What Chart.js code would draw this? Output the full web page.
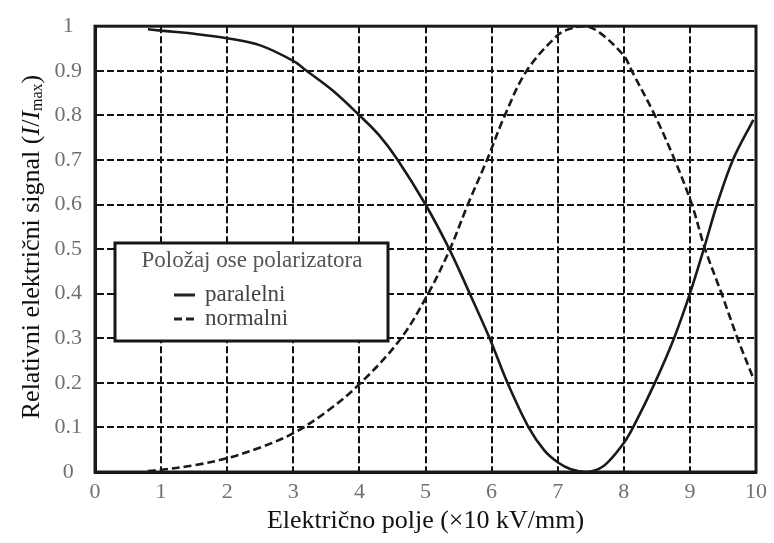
<!DOCTYPE html>
<html>
<head>
<meta charset="utf-8">
<script src="https://cdn.jsdelivr.net/npm/chart.js@4/dist/chart.umd.min.js"></script>
<style>
  html, body { margin: 0; padding: 0; background: #fff; }
  canvas { display: block; }
</style>
</head>
<body>
<canvas id="chart" width="774" height="543"></canvas>
<script>
// values
const paralelniX = [0.8, 1.0, 1.5, 2.0, 2.5, 3.0, 3.2, 3.6, 4.0, 4.3, 4.58, 5.0, 5.36, 5.67, 5.97, 6.24, 6.56, 6.8, 7.0, 7.2, 7.44, 7.7, 8.0, 8.14, 8.47, 8.76, 9.0, 9.21, 9.41, 9.65, 9.96];
const paralelniY = [0.993, 0.99, 0.983, 0.973, 0.957, 0.922, 0.9, 0.855, 0.8, 0.755, 0.7, 0.6, 0.5, 0.4, 0.3, 0.2, 0.1, 0.048, 0.022, 0.006, 0.0, 0.014, 0.065, 0.1, 0.2, 0.3, 0.4, 0.5, 0.6, 0.7, 0.79];

const normalniX = [0.8, 1.0, 1.5, 2.0, 2.5, 3.0, 3.5, 4.0, 4.61, 5.04, 5.37, 5.64, 5.93, 6.2, 6.53, 7.0, 7.2, 7.42, 7.64, 8.0, 8.12, 8.47, 8.77, 9.03, 9.23, 9.48, 9.72, 9.96];
const normalniY = [0.002, 0.005, 0.015, 0.031, 0.055, 0.087, 0.135, 0.197, 0.296, 0.4, 0.5, 0.6, 0.7, 0.8, 0.9, 0.98, 0.995, 1.0, 0.985, 0.934, 0.9, 0.8, 0.7, 0.6, 0.5, 0.4, 0.3, 0.21];

const xTicks = [0, 10, 1];
const yTicks = [0, 1, 0.1];
const legendTitle = "Položaj ose polarizatora";
const xTitle = "Električno polje (×10 kV/mm)";

const serif = "'Liberation Serif', 'Times New Roman', 'DejaVu Serif', serif";

const toPoints = (xs, ys) => xs.map((x, i) => ({ x: x, y: ys[i] }));

// y axis title with italic I and subscript "max"
const yTitlePlugin = {
  id: "yTitle",
  afterDraw(chart) {
    const ctx = chart.ctx;
    const parts = [
      { t: "Relativni električni signal (", f: "26px " + serif, dy: 0 },
      { t: "I", f: "italic 26px " + serif, dy: 0 },
      { t: "/", f: "26px " + serif, dy: 0 },
      { t: "I", f: "italic 26px " + serif, dy: 0 },
      { t: "max", f: "16px " + serif, dy: 6 },
      { t: ")", f: "26px " + serif, dy: 0 },
    ];
    let total = 0;
    parts.forEach((p) => {
      ctx.font = p.f;
      p.w = ctx.measureText(p.t).width;
      total += p.w;
    });
    ctx.save();
    ctx.translate(32, 247);
    ctx.rotate(-Math.PI / 2);
    ctx.fillStyle = "#111";
    ctx.textBaseline = "middle";
    let x = -total / 2;
    parts.forEach((p) => {
      ctx.font = p.f;
      ctx.fillText(p.t, x, p.dy);
      x += p.w;
    });
    ctx.restore();
  },
};

// legend box inside the plot + outer frame
const boxPlugin = {
  id: "boxes",
  afterDatasetsDraw(chart) {
    const ctx = chart.ctx;
    const bx = 115, by = 243, bw = 273, bh = 98;
    ctx.save();
    ctx.fillStyle = "#fff";
    ctx.fillRect(bx, by, bw, bh);
    ctx.lineWidth = 3;
    ctx.strokeStyle = "#161616";
    ctx.strokeRect(bx, by, bw, bh);

    ctx.font = "23px " + serif;
    ctx.fillStyle = "#555";
    ctx.textAlign = "center";
    ctx.textBaseline = "middle";
    ctx.fillText(legendTitle, 252, by + 18);

    ctx.textAlign = "left";
    chart.data.datasets.forEach((ds, i) => {
      const y = by + 52 + i * 24;
      ctx.beginPath();
      ctx.lineWidth = 3;
      ctx.strokeStyle = "#222";
      ctx.setLineDash(ds.borderDash || []);
      ctx.moveTo(174, y);
      ctx.lineTo(195, y);
      ctx.stroke();
      ctx.setLineDash([]);
      ctx.fillStyle = "#444";
      ctx.fillText(ds.label, 205, y);
    });
    ctx.restore();
  },
  afterDraw(chart) {
    const a = chart.chartArea;
    const ctx = chart.ctx;
    ctx.save();
    ctx.lineWidth = 3;
    ctx.strokeStyle = "#1a1a1a";
    ctx.strokeRect(a.left, a.top, a.right - a.left, a.bottom - a.top);
    ctx.restore();
  },
};

const gridOpts = { color: "#111", lineWidth: 2, drawTicks: false };
const borderOpts = { display: true, color: "#111", width: 3, dash: [7, 3] };

function draw() {
  new Chart(document.getElementById("chart").getContext("2d"), {
    type: "line",
    data: {
      datasets: [
        {
          label: "paralelni",
          data: toPoints(paralelniX, paralelniY),
          borderColor: "#1a1a1a",
          borderWidth: 2.6,
          pointRadius: 0,
          tension: 0.35,
          fill: false,
        },
        {
          label: "normalni",
          data: toPoints(normalniX, normalniY),
          borderColor: "#1a1a1a",
          borderWidth: 2.6,
          borderDash: [8, 4],
          pointRadius: 0,
          tension: 0.35,
          fill: false,
        },
      ],
    },
    options: {
      responsive: false,
      animation: false,
      devicePixelRatio: 1,
      layout: { padding: { top: 17, right: 18, left: 0, bottom: 0 } },
      plugins: { legend: { display: false }, tooltip: { enabled: false } },
      scales: {
        x: {
          type: "linear",
          min: xTicks[0],
          max: xTicks[1],
          ticks: {
            stepSize: xTicks[2],
            color: "#707070",
            font: { family: serif, size: 22 },
            padding: 7,
            maxRotation: 0,
          },
          grid: gridOpts,
          border: borderOpts,
          title: {
            display: true,
            text: xTitle,
            color: "#111",
            font: { family: serif, size: 26 },
            padding: { top: 0, bottom: 6 },
          },
          afterFit(scale) { scale.height = 71; },
        },
        y: {
          min: yTicks[0],
          max: yTicks[1],
          ticks: {
            stepSize: yTicks[2],
            color: "#707070",
            font: { family: serif, size: 22 },
            padding: 13,
            crossAlign: "center",
            callback: (v) => (Math.round(v * 10) / 10).toString(),
          },
          grid: gridOpts,
          border: borderOpts,
          afterFit(scale) { scale.width = 95; },
        },
      },
    },
    plugins: [yTitlePlugin, boxPlugin],
  });
}

if (document.fonts && document.fonts.load) {
  Promise.all([
    document.fonts.load("20px 'Liberation Serif'"),
    document.fonts.load("italic 20px 'Liberation Serif'"),
  ]).then(draw, draw);
} else {
  draw();
}
</script>
</body>
</html>
